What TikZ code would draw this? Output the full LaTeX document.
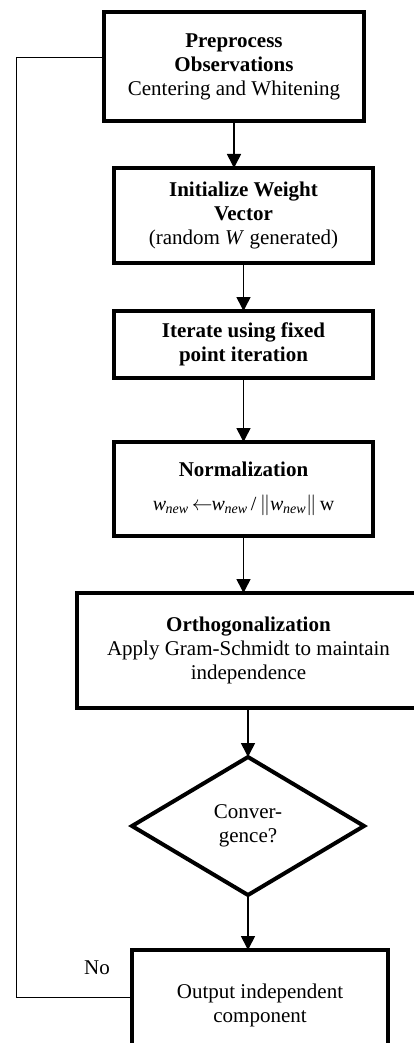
\documentclass[tikz,border=0pt]{standalone}
\usepackage{fontspec}
\setmainfont{Liberation Serif}
\usetikzlibrary{shapes.geometric,arrows.meta}
\newcommand{\wnew}{\textit{w}\textsubscript{\kern-0.5pt\textit{new}}}
\begin{document}
\begin{tikzpicture}[x=1pt,y=-1pt,
  font=\fontsize{21}{24}\selectfont,
  box/.style={draw,line width=4pt,rectangle,inner sep=0pt,outer sep=0pt,align=center},
  dia/.style={draw,line width=4pt,diamond,inner sep=0pt,outer sep=0pt,align=center},
  flow/.style={line width=1.6pt,-{Triangle[length=14pt,width=14pt]}},
  back/.style={line width=1pt}]
\useasboundingbox (0,0) rectangle (414,1043);
\clip (0,0) rectangle (414,1043);
\node[box,minimum width=260pt,minimum height=109pt] (pre) at (234,66.5)
  {\textbf{Preprocess}\\\textbf{Observations}\\Centering and Whitening};
\node[box,minimum width=259pt,minimum height=95pt] (init) at (243.5,215.5)
  {\textbf{Initialize Weight}\\\textbf{Vector}\\(random \textit{W} generated)};
\node[box,minimum width=259pt,minimum height=67pt] (iter) at (243.5,344.5)
  {\textbf{Iterate using fixed}\\\textbf{point iteration}};
\node[box,minimum width=259pt,minimum height=94pt] (norm) at (243.5,489)
  {\textbf{Normalization}\\[10pt]{\fontsize{20}{22}\selectfont\wnew\,$\leftarrow$\kern-1pt\wnew\,/\,$\left\|\mbox{\wnew}\right\|$\,w}};
\node[box,minimum width=343pt,minimum height=115pt] (orth) at (248.5,650.5)
  {\textbf{Orthogonalization}\\Apply Gram-Schmidt to maintain\\independence};
\node[dia,minimum width=232pt,minimum height=138pt] (conv) at (248,826)
  {Conver-\\gence?};
\node[box,minimum width=256pt,minimum height=110pt] (out) at (260,1005)
  {Output independent\\component};
\node (no) at (97,968) {No};
\draw[flow] (pre.south) -- (pre.south |- init.north);
\draw[flow] (init.south) -- (init.south |- iter.north);
\draw[flow] (iter.south) -- (iter.south |- norm.north);
\draw[flow] (norm.south) -- (norm.south |- orth.north);
\draw[flow] (conv.north |- orth.south) -- (conv.north);
\draw[flow] (conv.south) -- (conv.south |- out.north);
\coordinate (c1) at (16,997);
\coordinate (c2) at (16,58);
\draw[back] (out.west |- c1) -- (c1) -- (c2) -- (pre.west |- c2);
\end{tikzpicture}
\end{document}
